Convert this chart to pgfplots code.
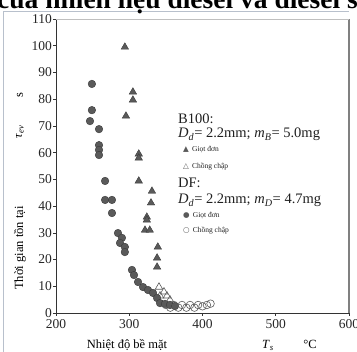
\documentclass[border=0pt]{standalone}
\usepackage{pgfplots}
\pgfplotsset{compat=1.18}
\usepackage{fontspec}
\setmainfont{Liberation Serif}
\newfontfamily\symfont{DejaVu Sans}
\definecolor{mk}{HTML}{5A5A5A}
\definecolor{mkd}{HTML}{3A3A3A}
\definecolor{framec}{HTML}{B8C0CC}
\begin{document}
\begin{tikzpicture}
\begin{axis}[name=ax, at={(0,0)}, anchor=north west,
 width=293pt, height=294pt, scale only axis,
 xmin=200, xmax=600, ymin=0, ymax=110,
 xtick={200,300,400,500,600}, ytick={0,10,...,110},
 axis x line*=bottom, axis y line*=left,
 axis line style={draw=black!80, line width=0.8pt},
 tick align=outside, major tick length=3pt,
 tick style={black!80, line width=0.6pt},
 /pgf/number format/assume math mode=true,
 ticklabel style={font=\fontsize{13.5}{14}\selectfont, text=black!85},
 yticklabel style={inner sep=1pt},
 clip=false,
]
% B100 single droplet (filled triangles)
\addplot[only marks, mark=triangle*, mark size=4.3pt, mark options={fill=mk, draw=mkd, line width=0.4pt}] coordinates {
(294,99.5) (305,82.7) (305,79.7) (295.5,73.7) (313,59.5) (313,58) (313,49.4)
(331,45.6) (329.7,41.2) (324,35.9) (324,34.8) (321.5,31) (328,31)
(339,24.7) (338,20.6) (338,17.2)
};
% B100 overlapping (hollow triangles)
\addplot[only marks, mark=triangle, mark size=4.3pt, mark options={draw=mk, fill=white, line width=0.6pt}] coordinates {
(340.6,9.7) (347.4,7.9) (351.5,6.4) (342,6.4) (355.6,4.9)
};
% DF single droplet (filled circles)
\addplot[only marks, mark=*, mark size=3.8pt, mark options={fill=mk, draw=mkd, line width=0.4pt}] coordinates {
(249,85.7) (249,75.9) (246.4,71.8) (258.7,68.8) (258.7,62.8) (258.7,61) (258.7,59.1)
(267,49.4) (267,42.3) (276.4,42.3) (276.4,37.4)
(284.6,29.9) (290,28.1) (287.4,26.2) (294,24.7) (294,22.8)
(303.7,16.1) (306.5,14.2) (312,11.6) (318.8,9.7) (325.6,8.6) (332.4,7.5) (338,5.6)
(342,3.7) (348.8,3.4) (355.6,3) (362.4,2.6)
};
% DF overlapping (hollow circles)
\addplot[only marks, mark=o, mark size=3.8pt, mark options={draw=mk, fill=white, line width=0.6pt}] coordinates {
(350,3) (356,2) (361,3) (367,2) (372,3) (378,2) (383,3) (389,2) (394,3) (400,2.5) (406,3) (411,3.5)
};
\end{axis}
\begin{scope}[shift={(ax.north west)}, xshift=-56pt, yshift=19pt, x=1pt, y=-1pt]
% frame
\draw[framec, line width=1pt] (4,360) -- (4,12) -- (349,12);
\draw[black!50, line width=1.4pt] (349,19) -- (349,313);
\draw[black!25, line width=0.6pt] (56,19) -- (349,19);
% clipped title at top
\node[anchor=base west, font=\bfseries\fontsize{27.5}{28}\selectfont, inner sep=0pt] at (-3,9) {của nhiên liệu diesel và diesel sinh học};
% y label
\node[rotate=90, font=\fontsize{12.5}{13}\selectfont] at (20,248) {Thời gian tồn tại};
\node[rotate=90, font=\fontsize{12.5}{13}\selectfont] at (20,132) {\textit{τ}\textsubscript{\textit{ev}}};
\node[rotate=90, font=\fontsize{12.5}{13}\selectfont] at (20,95) {s};
% x label
\node[anchor=base, font=\fontsize{12.5}{13}\selectfont] at (127,349) {Nhiệt độ bề mặt};
\node[anchor=base, font=\fontsize{12.5}{13}\selectfont] at (268,349) {\textit{T}\textsubscript{\textit{s}}};
\node[anchor=base, font=\fontsize{12.5}{13}\selectfont] at (310,349) {°C};
% in-plot legend
\begin{scope}[every node/.style={anchor=base west, inner sep=0pt, text=black!88}]
\node[font=\fontsize{14.5}{15}\selectfont] at (178,124) {B100:};
\node[font=\fontsize{14.5}{15}\selectfont] at (178,138) {\textit{D}\textsubscript{\textit{d}}= 2.2mm; \textit{m}\textsubscript{\textit{B}}= 5.0mg};
\node[font=\fontsize{7.5}{8}\selectfont] at (183,152) {{\symfont\color{mk}▲}\, Giọt đơn};
\node[font=\fontsize{7.5}{8}\selectfont] at (183,169) {{\symfont\color{mk}△}\, Chồng chập};
\node[font=\fontsize{14.5}{15}\selectfont] at (178,188) {DF:};
\node[font=\fontsize{14.5}{15}\selectfont] at (178,204) {\textit{D}\textsubscript{\textit{d}}= 2.2mm; \textit{m}\textsubscript{\textit{D}}= 4.7mg};
\node[font=\fontsize{7.5}{8}\selectfont] at (183,218) {{\symfont\color{mk}●}\, Giọt đơn};
\node[font=\fontsize{7.5}{8}\selectfont] at (183,233) {{\symfont\color{mk}○}\, Chồng chập};
\end{scope}
\pgfresetboundingbox
\path[use as bounding box] (0,0) rectangle (357,352);
\end{scope}
\end{tikzpicture}
\end{document}
